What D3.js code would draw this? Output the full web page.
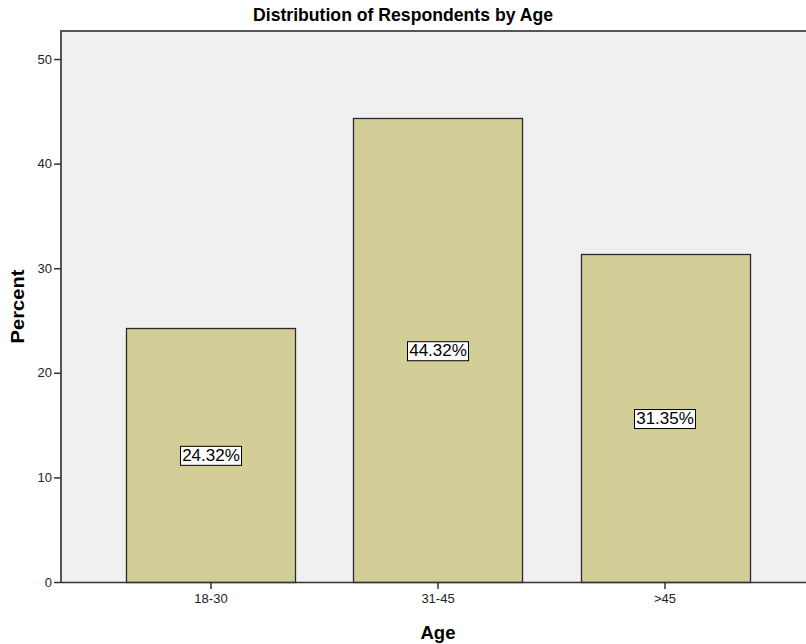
<!DOCTYPE html>
<html>
<head>
<meta charset="utf-8">
<script src="https://cdn.jsdelivr.net/npm/d3@7"></script>
<style>
  html, body { margin: 0; padding: 0; background: #fff; }
  svg { display: block; }
  text { font-family: "Liberation Sans", Arial, sans-serif; }
</style>
</head>
<body>
<svg id="chart" width="806" height="644"></svg>
<script>
// Age groups and share of respondents (percent)
const categories = ["18-30", "31-45", ">45"];
const percents = [24.32, 44.32, 31.35];
const yTicks = [0, 10, 20, 30, 40, 50];
const title = "Distribution of Respondents by Age";
const xTitle = "Age";
const yTitle = "Percent";

const W = 806, H = 644;
const plot = { left: 61, top: 31, right: 815, bottom: 582 };

const svg = d3.select("#chart");

const x = d3.scaleBand()
  .domain(categories)
  .range([plot.left, plot.right])
  .paddingInner(0.2555)
  .paddingOuter(0.2885);

const y = d3.scaleLinear()
  .domain([0, 52.68])
  .range([plot.bottom, plot.top]);

// plot background
svg.append("rect")
  .attr("x", plot.left).attr("y", plot.top)
  .attr("width", plot.right - plot.left)
  .attr("height", plot.bottom - plot.top)
  .attr("fill", "#f0f0f0");

// bars
svg.append("g").selectAll("rect")
  .data(categories)
  .join("rect")
  .attr("x", d => Math.round(x(d)) + 0.5)
  .attr("y", (d, i) => Math.round(y(percents[i])) + 0.5)
  .attr("width", x.bandwidth())
  .attr("height", (d, i) => Math.round(y(0)) - Math.round(y(percents[i])))
  .attr("fill", "#d3ce97")
  .attr("stroke", "#2a2a2a")
  .attr("stroke-width", 1.3);

// plot frame: left and top edges
svg.append("path")
  .attr("d", `M${plot.left},${plot.bottom} V${plot.top} H${plot.right}`)
  .attr("fill", "none")
  .attr("stroke", "#555")
  .attr("stroke-width", 2);

// y axis
const yAxis = svg.append("g")
  .attr("transform", `translate(${plot.left},0)`)
  .call(d3.axisLeft(y).tickValues(yTicks).tickSize(7).tickPadding(2).tickFormat(d3.format("d")));
yAxis.select(".domain").remove();
yAxis.selectAll(".tick line").attr("stroke", "#333").attr("stroke-width", 1.5);
yAxis.selectAll(".tick text").attr("font-size", 13).attr("fill", "#222")
  .attr("font-family", "'Liberation Sans', Arial, sans-serif");

// x axis
const xAxis = svg.append("g")
  .attr("transform", `translate(0,${plot.bottom})`)
  .call(d3.axisBottom(x).tickSize(7).tickPadding(5));
xAxis.select(".domain")
  .attr("d", `M${plot.left},0.5H${plot.right}`)
  .attr("stroke", "#333").attr("stroke-width", 1.5);
xAxis.selectAll(".tick line").attr("stroke", "#333").attr("stroke-width", 1.5);
xAxis.selectAll(".tick text").attr("font-size", 13).attr("fill", "#222")
  .attr("font-family", "'Liberation Sans', Arial, sans-serif");

// value labels in boxes at bar mid-height
const labels = svg.append("g").selectAll("g")
  .data(categories)
  .join("g")
  .attr("transform", (d, i) => `translate(${x(d) + x.bandwidth() / 2},${y(percents[i] / 2)})`);
labels.append("text")
  .attr("text-anchor", "middle")
  .attr("dy", "0.36em")
  .attr("font-size", 17)
  .attr("fill", "#000")
  .text((d, i) => d3.format(".2f")(percents[i]) + "%");
labels.each(function () {
  const g = d3.select(this);
  const bb = g.select("text").node().getBBox();
  g.insert("rect", "text")
    .attr("x", Math.round(bb.x) - 1.5)
    .attr("y", Math.round(bb.y) + 0.5)
    .attr("width", Math.round(bb.width) + 3)
    .attr("height", Math.round(bb.height))
    .attr("fill", "#fff")
    .attr("stroke", "#000")
    .attr("stroke-width", 1);
});

// titles
svg.append("text")
  .attr("x", 403).attr("y", 21)
  .attr("text-anchor", "middle")
  .attr("font-weight", "bold")
  .attr("font-size", 18)
  .attr("textLength", 300)
  .attr("lengthAdjust", "spacingAndGlyphs")
  .text(title);

svg.append("text")
  .attr("x", x(categories[1]) + x.bandwidth() / 2).attr("y", 639)
  .attr("text-anchor", "middle")
  .attr("font-weight", "bold")
  .attr("font-size", 19)
  .attr("textLength", 35)
  .attr("lengthAdjust", "spacingAndGlyphs")
  .text(xTitle);

svg.append("text")
  .attr("transform", `translate(24,${(plot.top + plot.bottom) / 2}) rotate(-90)`)
  .attr("text-anchor", "middle")
  .attr("font-weight", "bold")
  .attr("font-size", 18)
  .attr("textLength", 74)
  .attr("lengthAdjust", "spacingAndGlyphs")
  .text(yTitle);
</script>
</body>
</html>
